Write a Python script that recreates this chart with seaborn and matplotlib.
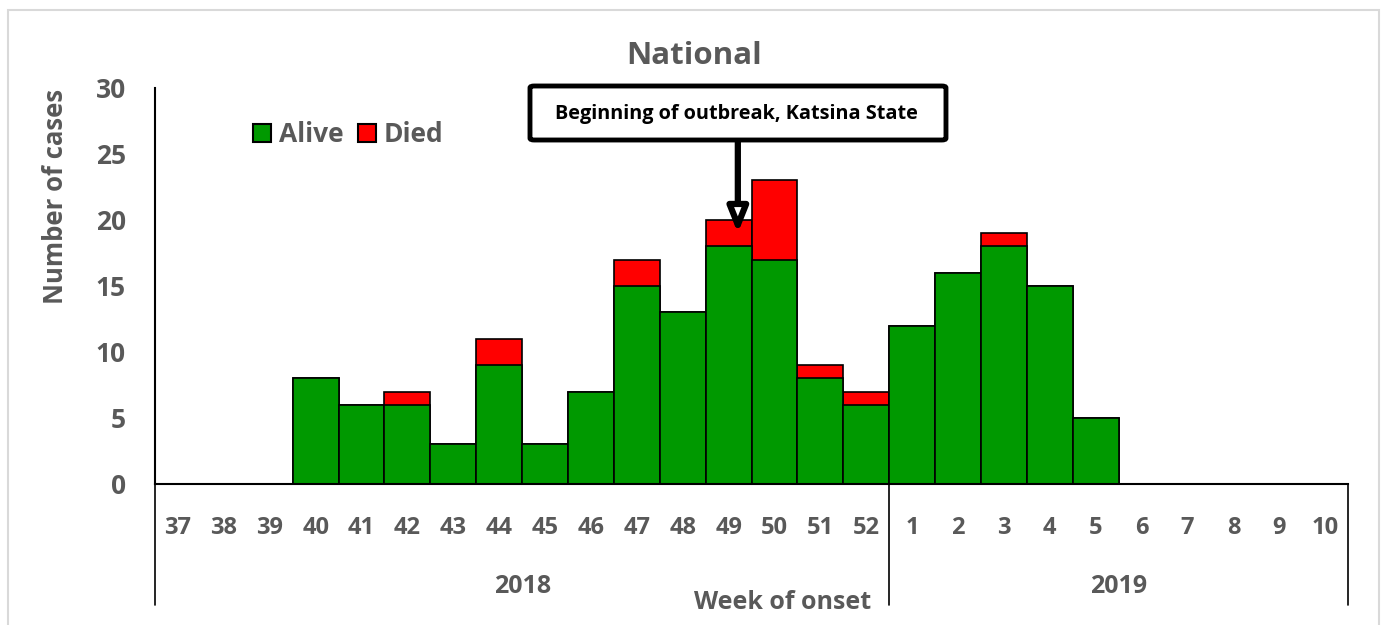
import numpy as np
import pandas as pd
import matplotlib
matplotlib.use("Agg")
import matplotlib.pyplot as plt
import matplotlib.patches as mpatches
import matplotlib.transforms as mtrans
from matplotlib.lines import Line2D
import seaborn as sns

# data
weeks = ["37", "38", "39", "40", "41", "42", "43", "44", "45", "46", "47", "48", "49",
         "50", "51", "52", "1", "2", "3", "4", "5", "6", "7", "8", "9", "10"]
alive = [0, 0, 0, 8, 6, 6, 3, 9, 3, 7, 15, 13, 18, 17, 8, 6, 12, 16, 18, 15, 5, 0, 0, 0, 0, 0]
died = [0, 0, 0, 0, 0, 1, 0, 2, 0, 0, 2, 0, 2, 6, 1, 1, 0, 0, 1, 0, 0, 0, 0, 0, 0, 0]
years = ["2018", "2019"]
year_spans = [(0, 16), (16, 26)]

GREEN = "#009900"
RED = "#FF0000"
GREY = "#595959"

sns.set_style("white")
plt.rcParams["font.family"] = ["Open Sans", "DejaVu Sans"]
plt.rcParams["font.weight"] = "bold"

df = pd.DataFrame({"week": weeks, "alive": alive, "died": died})
df["total"] = df["alive"] + df["died"]

fig = plt.figure(figsize=(13.82, 6.25), dpi=100)
ax = fig.add_axes([0.1122, 0.2256, 0.8633, 0.6336])

sns.barplot(data=df, x="week", y="total", order=weeks, color=RED, width=1,
            edgecolor="black", linewidth=1.2, saturation=1, ax=ax)
sns.barplot(data=df, x="week", y="alive", order=weeks, color=GREEN, width=1,
            edgecolor="black", linewidth=1.2, saturation=1, ax=ax)

ax.set_xlim(-0.5, len(weeks) - 0.5)
ax.set_ylim(0, 30)
ax.set_yticks(range(0, 31, 5))
ax.tick_params(axis="y", direction="in", length=7, width=1.5, pad=21,
               labelsize=19, labelcolor=GREY)
ax.tick_params(axis="x", length=0, pad=23, labelsize=17, labelcolor=GREY)
for lab in ax.get_yticklabels() + ax.get_xticklabels():
    lab.set_fontweight("bold")
ax.set_xlabel("")
ax.set_ylabel("")
for s in ["top", "right"]:
    ax.spines[s].set_visible(False)
ax.spines["left"].set_linewidth(1.5)
ax.spines["bottom"].set_linewidth(1.5)
ax.spines["left"].set_color("black")
ax.spines["bottom"].set_color("black")

# year group separators
trans = mtrans.blended_transform_factory(ax.transData, ax.transAxes)
for xv in [-0.5, 15.5, 25.5]:
    ax.add_line(Line2D([xv, xv], [0, -0.305], transform=trans, color="black",
                       lw=1.2, clip_on=False))
for yr, (a, b) in zip(years, year_spans):
    ax.text((a + b) / 2 - 0.5, -0.258, yr, transform=trans, ha="center", va="center",
            fontsize=18, fontweight="bold", color=GREY)

fig.text(0.5665, 0.036, "Week of onset", ha="center", va="center", fontsize=18,
         fontweight="bold", color=GREY)
fig.text(0.04, 0.686, "Number of cases", rotation=90, ha="center", va="center",
         fontsize=18.5, fontweight="bold", color=GREY)
fig.text(0.502, 0.91, "National", ha="center", va="center", fontsize=22.5,
         fontweight="bold", color=GREY)

handles = [mpatches.Patch(facecolor=GREEN, edgecolor="black", lw=1.5, label="Alive"),
           mpatches.Patch(facecolor=RED, edgecolor="black", lw=1.5, label="Died")]
leg = fig.legend(handles=handles, loc="center left", bbox_to_anchor=(0.1755, 0.784),
                 ncol=2, frameon=False, prop={"size": 19, "weight": "bold"},
                 handlelength=0.68, handleheight=0.68,
                 handletextpad=0.3, columnspacing=0.55, borderaxespad=0)
for t in leg.get_texts():
    t.set_color(GREY)

# annotation box and arrow
box = mpatches.FancyBboxPatch((0.3835, 0.776), 0.301, 0.0864,
                              boxstyle="round,pad=0,rounding_size=0.003",
                              transform=fig.transFigure, lw=3.5, ec="black",
                              fc="white", zorder=5)
fig.patches.append(box)
fig.text(0.533, 0.818, "Beginning of outbreak, Katsina State", ha="center",
         va="center", fontsize=14.3, fontweight="bold", color="black", zorder=6)
ax.annotate("", xy=(12.2, 19.0), xytext=(12.2, 26.05),
            arrowprops=dict(arrowstyle="-|>,head_length=1.5,head_width=0.6",
                            lw=4.5, fc="white", ec="black", shrinkA=0, shrinkB=0),
            annotation_clip=False)

# light outer frame
frame = mpatches.Rectangle((0.0058, -0.05), 0.992, 1.034, transform=fig.transFigure,
                           fill=False, ec="#d9d9d9", lw=1.5)
fig.patches.append(frame)

fig.savefig("out.png", dpi=100)
